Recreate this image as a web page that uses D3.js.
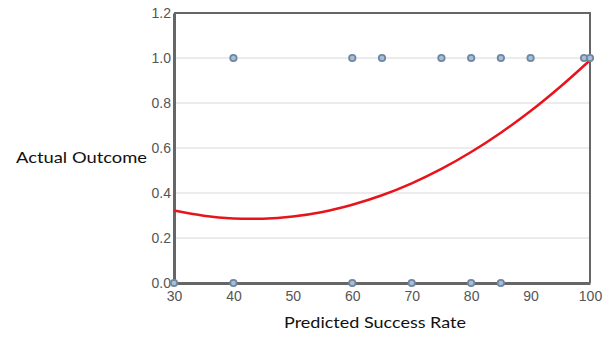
<!DOCTYPE html>
<html><head><meta charset="utf-8">
<script src="https://cdn.jsdelivr.net/npm/d3@7"></script>
<style>body{margin:0;background:#fff;}svg{display:block;font-family:"Lato","Open Sans",sans-serif;}</style>
</head><body><svg id="c" width="609" height="338"></svg>
<script>
const xTicks = [30,40,50,60,70,80,90,100];
const yTicks = [0,0.2,0.4,0.6,0.8,1.0,1.2];
const successX = [40,60,65,75,80,85,90,99,100];
const failX = [30,40,60,70,80,85];
const curveX = [30,35,40,45,50,55,60,65,70,75,80,85,90,95,100];
const curveY = [0.322,0.299,0.287,0.286,0.296,0.316,0.348,0.390,0.443,0.507,0.582,0.668,0.764,0.872,0.99];

const svg = d3.select("#c");
const L=174,R=590,T=13,B=283;
const x = d3.scaleLinear().domain([30,100]).range([L,R]);
const y = d3.scaleLinear().domain([0,1.2]).range([B,T]);

svg.append("g").selectAll("line").data(yTicks.filter(d=>d>0&&d<1.2)).join("line")
  .attr("x1",L).attr("x2",R).attr("y1",d=>y(d)).attr("y2",d=>y(d))
  .attr("stroke","#d8d8d8").attr("stroke-width",1);

svg.append("path").attr("d",`M${L},${T}H${R}V${B}`).attr("fill","none").attr("stroke","#666").attr("stroke-width",2);

const yAxis = svg.append("g").attr("transform",`translate(${L},0)`)
  .call(d3.axisLeft(y).tickValues(yTicks).tickFormat(d3.format(".1f")).tickSize(0).tickPadding(3));
yAxis.select(".domain").attr("stroke","#666").attr("stroke-width",3);
yAxis.selectAll("text").attr("fill","#555").attr("font-size",14).attr("font-weight",300);

const xAxis = svg.append("g").attr("transform",`translate(0,${B})`)
  .call(d3.axisBottom(x).tickValues(xTicks).tickFormat(d3.format("d")).tickSize(0).tickPadding(8));
xAxis.select(".domain").attr("stroke","#666").attr("stroke-width",3);
xAxis.selectAll("text").attr("fill","#555").attr("font-size",14).attr("font-weight",300);

const line = d3.line().x(d=>x(d[0])).y(d=>y(d[1])).curve(d3.curveCatmullRom);
svg.append("path").datum(curveX.map((v,i)=>[v,curveY[i]])).attr("d",line)
  .attr("fill","none").attr("stroke","#e8141b").attr("stroke-width",2.5);

const pts = successX.map(v=>[v,1]).concat(failX.map(v=>[v,0]));
svg.append("g").selectAll("circle").data(pts).join("circle")
  .attr("cx",d=>x(d[0])).attr("cy",d=>y(d[1])).attr("r",3.2)
  .attr("fill","#a6bfd8").attr("stroke","#6f87a0").attr("stroke-width",1.8);

svg.append("text").attr("x",284).attr("y",328)
  .attr("font-size",16).attr("fill","#111").attr("textLength",182).attr("lengthAdjust","spacingAndGlyphs").text("Predicted Success Rate");
svg.append("text").attr("x",16).attr("y",163)
  .attr("font-size",16).attr("fill","#111").attr("textLength",131).attr("lengthAdjust","spacingAndGlyphs").text("Actual Outcome");
</script></body></html>
